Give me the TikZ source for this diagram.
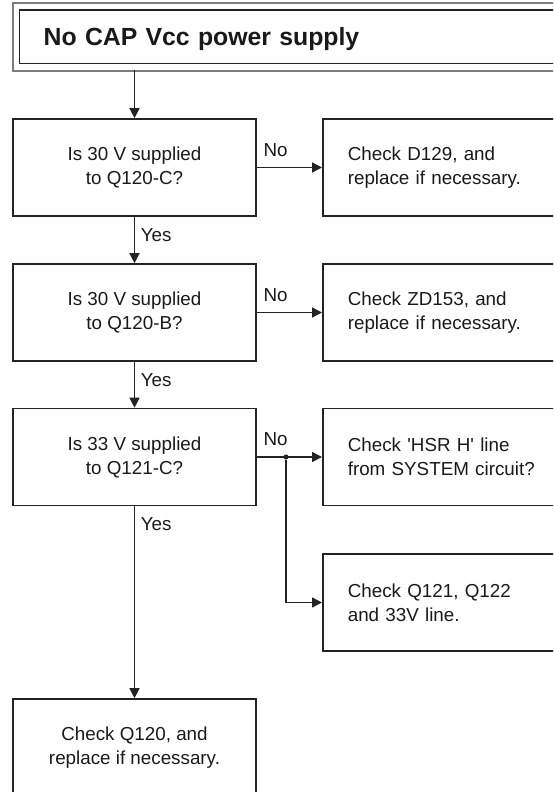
\documentclass[tikz,border=0pt]{standalone}
\usepackage{fontspec}
\setmainfont{Liberation Sans}
\usetikzlibrary{arrows.meta}
\definecolor{flowline}{RGB}{35,35,35}
\definecolor{flowframe}{RGB}{125,125,125}
\definecolor{flowtext}{RGB}{25,25,25}

\tikzset{
  qbox/.style={draw=flowline, line width=0.8pt, minimum width=121.5pt, minimum height=48.5pt,
    align=center, inner sep=0pt, text=flowtext, font=\fontsize{9.4}{12}\selectfont},
  abox/.style={qbox, anchor=west, minimum width=140pt, text width=115pt, inner xsep=12.5pt, align=left},
  flow/.style={draw=flowline, line width=0.7pt, -{Triangle[length=5pt,width=5pt]}},
  nolbl/.style={pos=0, anchor=south west, inner sep=0pt, xshift=3pt, yshift=5.2pt,
    text=flowtext, font=\fontsize{9.4}{12}\selectfont},
  yeslbl/.style={pos=0, anchor=north west, inner sep=0pt, xshift=2.8pt, yshift=-5.5pt,
    text=flowtext, font=\fontsize{9.4}{12}\selectfont},
  junc/.style={circle, fill=flowline, inner sep=0pt, minimum size=2.6pt}
}

\begin{document}
\begin{tikzpicture}[x=0.5pt, y=-0.5pt]
\useasboundingbox (0,0) rectangle (553,792);
\clip (0,0) rectangle (553,792);

% Title
\node[draw=flowline, line width=0.7pt, anchor=north west, minimum width=290.5pt, minimum height=26.85pt,
  text width=266.5pt, inner xsep=12pt, inner ysep=0pt, align=left, text depth=0pt, text=flowtext,
  font=\fontsize{12.4}{14}\selectfont\bfseries] (title) at (19,9.3) {No CAP Vcc power supply};
\draw[flowframe, line width=1.1pt] ([xshift=-3.15pt,yshift=3pt]title.north west) rectangle ([xshift=5pt,yshift=-3.5pt]title.south east);
\coordinate (tstart) at (134.5,70);

% Questions
\node[qbox] (q1) at (134.5,167.5) {Is 30 V supplied\\to Q120-C?};
\node[qbox] (q2) at (134.5,312.5) {Is 30 V supplied\\to Q120-B?};
\node[qbox] (q3) at (134.5,457) {Is 33 V supplied\\to Q121-C?};
\node[qbox] (q4) at (134.5,747.5) {Check Q120, and\\replace if necessary.};

% Answers
\node[abox] (a1) at (322,167.5) {Check D129, and\\replace if necessary.};
\node[abox] (a2) at (322,312.5) {Check ZD153, and\\replace if necessary.};
\node[abox] (a3) at (322,457) {Check \textquotesingle HSR H\textquotesingle{} line\\from SYSTEM circuit?};
\node[abox] (a4) at (322,602.5) {Check Q121, Q122\\and 33V line.};

% Arrows
\draw[flow] (tstart) -- (q1);
\draw[flow] (q1) -- node[nolbl] {No} (a1);
\draw[flow] (q1) -- node[yeslbl] {Yes} (q2);
\draw[flow] (q2) -- node[nolbl] {No} (a2);
\draw[flow] (q2) -- node[yeslbl] {Yes} (q3);
\draw[flow] (q3) -- node[nolbl] {No} (a3);
\node[junc] (j3) at (286,457) {};
\draw[flow] (j3) |- (a4);
\draw[flow] (q3) -- node[yeslbl] {Yes} (q4);
\end{tikzpicture}
\end{document}
